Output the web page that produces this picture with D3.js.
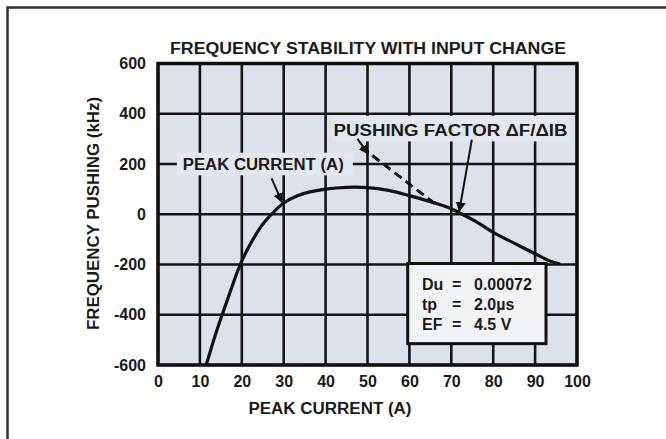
<!DOCTYPE html>
<html>
<head>
<meta charset="utf-8">
<script src="https://cdn.jsdelivr.net/npm/d3@7"></script>
<style>
	body { margin: 0; background: #fff; }
	svg { display: block; }
	text { font-family: "Liberation Sans", Arial, Helvetica, sans-serif; font-weight: bold; fill: #1a1a1a; }
</style>
</head>
<body>
<div id="chart"></div>
<script>
///////////////////////////////////////////////////////////////////////////
//////////////////////////// data /////////////////////////////////////////
///////////////////////////////////////////////////////////////////////////

const xTicks = [0, 10, 20, 30, 40, 50, 60, 70, 80, 90, 100];
const yTicks = [-600, -400, -200, 0, 200, 400, 600];

// curve
const peakCurrent = [11.5, 12.5, 13.5, 15, 17, 19.5, 22, 25, 28, 30, 33, 36, 40, 45, 50, 55, 60, 65, 70, 72, 76, 80, 85, 90, 93.5, 96];
const pushing = [-600, -545, -490, -415, -320, -205, -120, -40, 15, 45, 72, 88, 100, 107, 106, 95, 74, 50, 22, 5, -30, -72, -115, -157, -186, -198];

// dashed tangent (pushing factor)
const tangentX = [48.5, 67];
const tangentY = [268, 30];

const titleText = "FREQUENCY STABILITY WITH INPUT CHANGE";
const xTitle = "PEAK CURRENT (A)";
const yTitle = "FREQUENCY PUSHING (kHz)";
const legendLabels = ["Du", "tp", "EF"];
const legendValues = ["0.00072", "2.0\u00b5s", "4.5 V"];

///////////////////////////////////////////////////////////////////////////
//////////////////////////// set up svg ///////////////////////////////////
///////////////////////////////////////////////////////////////////////////

const width = 666;
const height = 439;
const margin = { top: 63.5, right: 89, bottom: 74, left: 158 };

const svg = d3
	.select("#chart")
	.append("svg")
	.attr("width", width)
	.attr("height", height);

const x = d3.scaleLinear().domain([0, 100]).range([margin.left, width - margin.right]);
const y = d3.scaleLinear().domain([-600, 600]).range([height - margin.bottom, margin.top]);

const defs = svg.append("defs");
defs.append("marker")
	.attr("id", "head")
	.attr("viewBox", "0 0 10 10")
	.attr("refX", 9)
	.attr("refY", 5)
	.attr("markerWidth", 5)
	.attr("markerHeight", 6)
	.attr("markerUnits", "strokeWidth")
	.attr("orient", "auto")
	.append("path")
	.attr("d", "M0,0 L10,5 L0,10 Z")
	.attr("fill", "#111");

// outer frame (top + left edges)
svg.append("path")
	.attr("d", "M7.5," + height + " V7.5 H" + width)
	.attr("fill", "none")
	.attr("stroke", "#333")
	.attr("stroke-width", 2.5);

///////////////////////////////////////////////////////////////////////////
//////////////////////////// plot area ////////////////////////////////////
///////////////////////////////////////////////////////////////////////////

const pw = x(100) - x(0);
const ph = y(-600) - y(600);

svg.append("rect")
	.attr("x", x(0))
	.attr("y", y(600))
	.attr("width", pw)
	.attr("height", ph)
	.attr("fill", "#dde2ea");

// grid
const grid = svg.append("g").attr("stroke", "#151515").attr("stroke-width", 2.6);
grid.selectAll(".vx")
	.data(xTicks)
	.enter()
	.append("line")
	.attr("class", "vx")
	.attr("x1", (d) => x(d))
	.attr("x2", (d) => x(d))
	.attr("y1", y(600))
	.attr("y2", y(-600));
grid.selectAll(".hy")
	.data(yTicks)
	.enter()
	.append("line")
	.attr("class", "hy")
	.attr("x1", x(0))
	.attr("x2", x(100))
	.attr("y1", (d) => y(d))
	.attr("y2", (d) => y(d));

svg.append("rect")
	.attr("x", x(0))
	.attr("y", y(600))
	.attr("width", pw)
	.attr("height", ph)
	.attr("fill", "none")
	.attr("stroke", "#111")
	.attr("stroke-width", 3.5);

// label knock-outs
svg.append("rect")
	.attr("x", x(4.5)).attr("y", y(245))
	.attr("width", x(46.5) - x(4.5)).attr("height", y(155) - y(245))
	.attr("fill", "#e4e8ee");
svg.append("rect")
	.attr("x", x(41.5)).attr("y", y(392))
	.attr("width", x(98) - x(41.5)).attr("height", y(290) - y(392))
	.attr("fill", "#e4e8ee");

///////////////////////////////////////////////////////////////////////////
//////////////////////////// curve ////////////////////////////////////////
///////////////////////////////////////////////////////////////////////////

const pts = peakCurrent.map((d, i) => [d, pushing[i]]);

const line = d3.line()
	.x((d) => x(d[0]))
	.y((d) => y(d[1]))
	.curve(d3.curveCatmullRom.alpha(0.5));

svg.append("path")
	.datum(pts)
	.attr("d", line)
	.attr("fill", "none")
	.attr("stroke", "#111")
	.attr("stroke-width", 3.2);

svg.append("path")
	.datum(tangentX.map((d, i) => [d, tangentY[i]]))
	.attr("d", d3.line().x((d) => x(d[0])).y((d) => y(d[1])))
	.attr("fill", "none")
	.attr("stroke", "#111")
	.attr("stroke-width", 3)
	.attr("stroke-dasharray", "9,5");

// arrows
const arrows = [
	[[27.1, 143], [29.6, 48]],
	[[74.9, 297], [71.9, 12]],
	[[47.6, 300], [50.2, 240]]
];
svg.selectAll(".arrow")
	.data(arrows)
	.enter()
	.append("line")
	.attr("class", "arrow")
	.attr("x1", (d) => x(d[0][0]))
	.attr("y1", (d) => y(d[0][1]))
	.attr("x2", (d) => x(d[1][0]))
	.attr("y2", (d) => y(d[1][1]))
	.attr("stroke", "#111")
	.attr("stroke-width", 2)
	.attr("marker-end", "url(#head)");

///////////////////////////////////////////////////////////////////////////
//////////////////////////// axes /////////////////////////////////////////
///////////////////////////////////////////////////////////////////////////

const plain = (d) => String(d);

svg.append("g")
	.attr("transform", "translate(0," + y(-600) + ")")
	.call(d3.axisBottom(x).tickValues(xTicks).tickFormat(plain).tickSize(0).tickPadding(11))
	.call((g) => g.select(".domain").remove())
	.call((g) => g.selectAll("text").attr("font-size", 16).attr("font-family", null).attr("fill", "#1a1a1a"));

svg.append("g")
	.attr("transform", "translate(" + x(0) + ",0)")
	.call(d3.axisLeft(y).tickValues(yTicks).tickFormat(plain).tickSize(0).tickPadding(12))
	.call((g) => g.select(".domain").remove())
	.call((g) => g.selectAll("text").attr("font-size", 16).attr("font-family", null).attr("fill", "#1a1a1a"));

///////////////////////////////////////////////////////////////////////////
//////////////////////////// texts ////////////////////////////////////////
///////////////////////////////////////////////////////////////////////////

svg.append("text")
	.attr("x", 170).attr("y", 53.5)
	.attr("font-size", 16)
	.attr("textLength", 396).attr("lengthAdjust", "spacingAndGlyphs")
	.text(titleText);

svg.append("text")
	.attr("x", 248.5).attr("y", 414)
	.attr("font-size", 16)
	.attr("textLength", 163).attr("lengthAdjust", "spacingAndGlyphs")
	.text(xTitle);

svg.append("text")
	.attr("transform", "translate(98.5,330) rotate(-90)")
	.attr("font-size", 16)
	.attr("textLength", 233).attr("lengthAdjust", "spacingAndGlyphs")
	.text(yTitle);

svg.append("text")
	.attr("x", x(5.9)).attr("y", y(175))
	.attr("font-size", 16)
	.attr("textLength", 161).attr("lengthAdjust", "spacingAndGlyphs")
	.text("PEAK CURRENT (A)");

svg.append("text")
	.attr("x", x(41.9)).attr("y", y(312))
	.attr("font-size", 16)
	.attr("textLength", 234).attr("lengthAdjust", "spacingAndGlyphs")
	.text("PUSHING FACTOR  \u0394F/\u0394IB");

// legend box
svg.append("rect")
	.attr("x", x(59.6)).attr("y", y(-196))
	.attr("width", x(92.6) - x(59.6)).attr("height", y(-515) - y(-196))
	.attr("fill", "#f2f3f5")
	.attr("stroke", "#111")
	.attr("stroke-width", 3);

const leg = svg.selectAll(".leg")
	.data(legendLabels)
	.enter()
	.append("g")
	.attr("class", "leg")
	.attr("transform", (d, i) => "translate(0," + (290 + i * 20) + ")");
leg.append("text").attr("x", 422).attr("font-size", 16).text((d) => d);
leg.append("text").attr("x", 452).attr("font-size", 16).text("=");
leg.append("text").attr("x", 474).attr("font-size", 16).text((d, i) => legendValues[i]);
</script>
</body>
</html>
